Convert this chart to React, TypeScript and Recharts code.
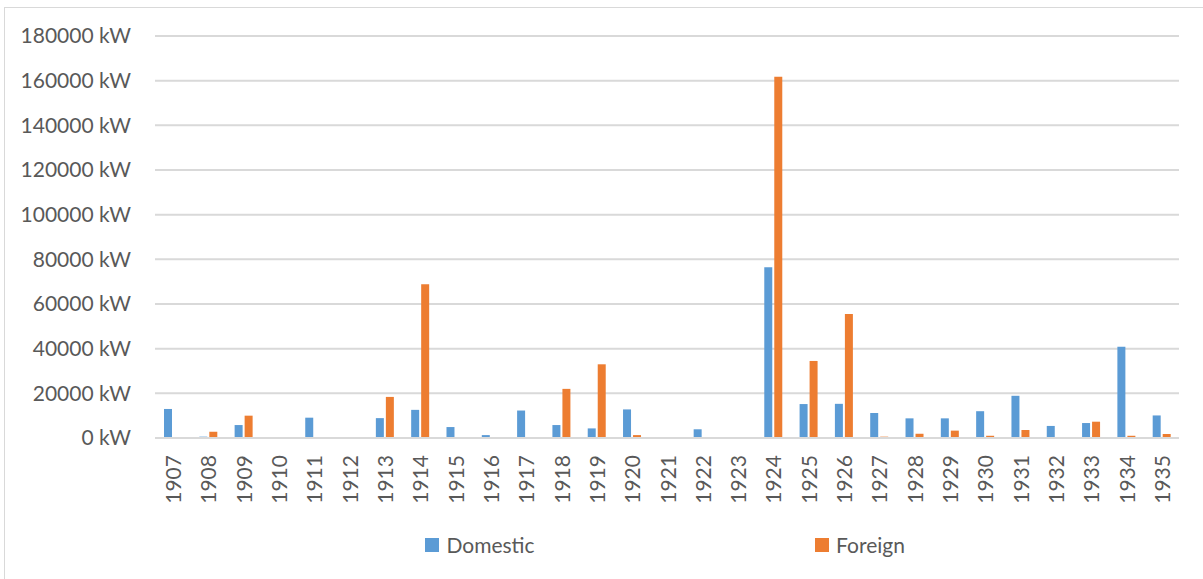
import React from "react";
import { BarChart, Bar, XAxis, YAxis, CartesianGrid, Legend } from "recharts";

// Commissioned capacity per year, split by origin of the equipment
const years = [
  "1907", "1908", "1909", "1910", "1911", "1912", "1913", "1914", "1915", "1916",
  "1917", "1918", "1919", "1920", "1921", "1922", "1923", "1924", "1925", "1926",
  "1927", "1928", "1929", "1930", "1931", "1932", "1933", "1934", "1935",
];

const domesticKW = [
  13000, 600, 5800, 0, 9100, 0, 8900, 12600, 4900, 1300,
  12300, 5800, 4300, 12800, 0, 3900, 0, 76500, 15200, 15300,
  11200, 8800, 8800, 12000, 18900, 5400, 6700, 40900, 10100,
];

const foreignKW = [
  0, 2800, 10000, 0, 0, 0, 18400, 68800, 0, 0,
  0, 22000, 33000, 1300, 0, 0, 0, 161800, 34500, 55500,
  600, 1900, 3300, 1000, 3600, 0, 7300, 1000, 1800,
];

const yTicks = [0, 20000, 40000, 60000, 80000, 100000, 120000, 140000, 160000, 180000];

const seriesNames = { domestic: "Domestic", foreign: "Foreign" };

const data = years.map((year, i) => ({
  year,
  domestic: domesticKW[i],
  foreign: foreignKW[i],
}));

const FONT = "Lato, 'Open Sans', sans-serif";
const TEXT = "#595959";
const GRID = "#d9d9d9";
const BLUE = "#5b9bd5";
const ORANGE = "#ed7d31";

const YearTick = (props: any) => {
  const { x, y, payload } = props;
  const ay = y + 9;
  return (
    <text
      x={x}
      y={ay}
      transform={`rotate(-90, ${x}, ${ay})`}
      textAnchor="end"
      dominantBaseline="central"
      fill={TEXT}
      fontSize={21}
      fontFamily={FONT}
    >
      {payload.value}
    </text>
  );
};

const LegendContent = (props: any) => {
  const { payload = [] } = props;
  return (
    <div style={{ height: 30, width: 760, marginLeft: 290, display: "flex" }}>
      {payload.map((item: any) => (
        <div
          key={item.value}
          style={{ flex: 1, display: "flex", justifyContent: "center", alignItems: "center" }}
        >
          <span
            style={{ display: "inline-block", width: 14, height: 14, background: item.color, marginRight: 7 }}
          />
          <span style={{ fontFamily: FONT, fontSize: 21, color: TEXT, lineHeight: "30px" }}>
            {item.value}
          </span>
        </div>
      ))}
    </div>
  );
};

export default function App() {
  return (
    <div
      style={{
        position: "absolute",
        left: 0,
        top: 0,
        width: 1203,
        height: 579,
        overflow: "hidden",
        background: "#fff",
      }}
    >
      <div
        style={{
          position: "absolute",
          left: 4,
          top: 7,
          width: 1400,
          height: 800,
          border: `1px solid ${GRID}`,
        }}
      />
      <div style={{ position: "absolute", left: 0, top: 0 }}>
        <BarChart
          width={1203}
          height={579}
          data={data}
          margin={{ top: 36, right: 24, left: 0, bottom: 19 }}
          barSize={8}
          barGap={2}
        >
          <CartesianGrid vertical={false} stroke={GRID} strokeWidth={2} />
          <XAxis
            dataKey="year"
            interval={0}
            height={92}
            tickLine={false}
            axisLine={{ stroke: GRID, strokeWidth: 2 }}
            tick={<YearTick />}
          />
          <YAxis
            width={155}
            domain={[0, 180000]}
            ticks={yTicks}
            tickSize={0}
            tickMargin={24}
            axisLine={false}
            tickLine={false}
            tickFormatter={(v: number) => `${v} kW`}
            tick={{ fill: TEXT, fontSize: 21, fontFamily: FONT }}
          />
          <Legend verticalAlign="bottom" content={<LegendContent />} />
          <Bar dataKey="domestic" name={seriesNames.domestic} fill={BLUE} isAnimationActive={false} />
          <Bar dataKey="foreign" name={seriesNames.foreign} fill={ORANGE} isAnimationActive={false} />
        </BarChart>
      </div>
    </div>
  );
}
